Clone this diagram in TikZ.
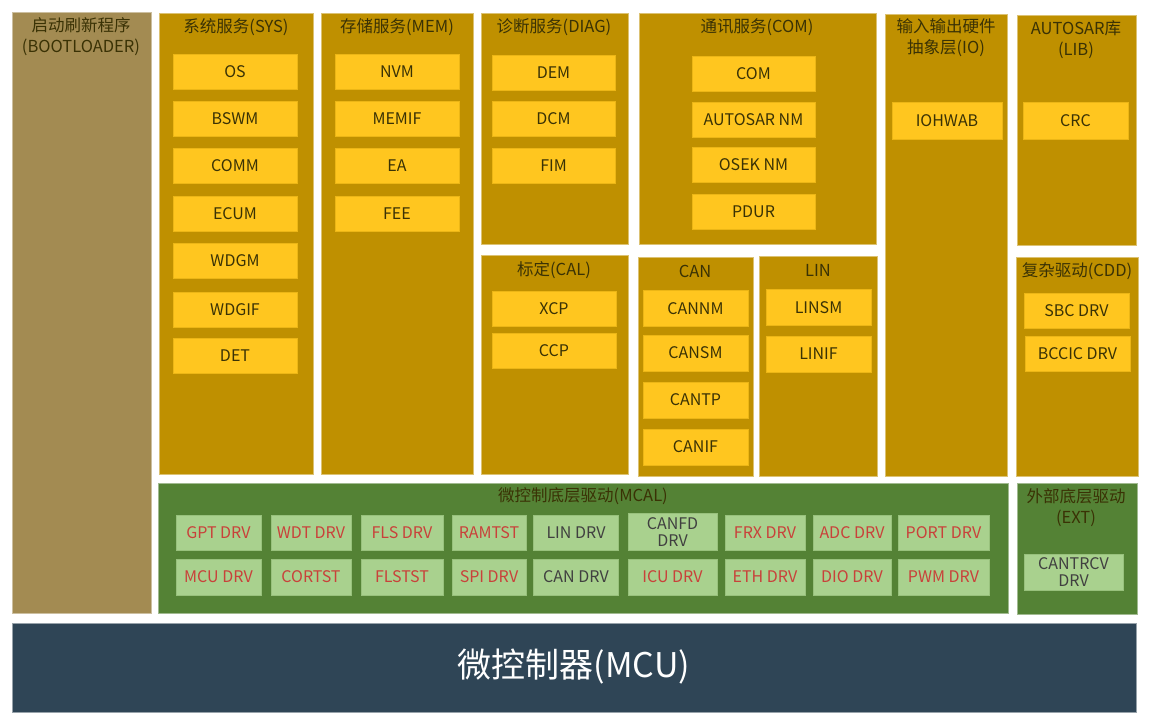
\documentclass[tikz,border=0pt]{standalone}
\usepackage{fontspec}
\setmainfont{Noto Sans CJK SC}
\usepackage{tikz}

\definecolor{bootcol}{HTML}{A38B52}
\definecolor{sectcol}{HTML}{BF9000}
\definecolor{modcol}{HTML}{FFC61F}
\definecolor{txtcol}{HTML}{3A3205}
\definecolor{mcalcol}{HTML}{548235}
\definecolor{drvcol}{HTML}{A9D18E}
\definecolor{redtxt}{HTML}{C9413A}
\definecolor{graytxt}{HTML}{404040}
\definecolor{mcucol}{HTML}{2F4556}

\tikzset{
  sect/.style={fill=sectcol, draw=sectcol!55!white, line width=0.8pt},
  bootsect/.style={fill=bootcol, draw=bootcol!55!white, line width=0.8pt},
  greensect/.style={fill=mcalcol, draw=mcalcol!55!white, line width=0.8pt},
  ttl/.style={text=txtcol, font=\fontsize{16.5}{21}\selectfont, align=center, inner sep=0pt},
  modbox/.style={fill=modcol, draw=modcol!70!sectcol, line width=0.6pt,
    text=txtcol, font=\fontsize{16}{18}\selectfont, inner sep=0pt,
    minimum width=#1, minimum height=35pt},
  modbox/.default=124pt,
  drvbox/.style={fill=drvcol, draw=drvcol!80!mcalcol, line width=0.6pt,
    text=redtxt, font=\fontsize{16}{17}\selectfont, inner sep=0pt, align=center,
    minimum height=35pt},
  graydrv/.style={drvbox, text=graytxt}
}

\begin{document}
\begin{tikzpicture}[x=1pt,y=-1pt]
  \useasboundingbox (0,0) rectangle (1151,723);

  % --- bootloader column ---
  \path[bootsect] (12,12) rectangle (151,613);
  \node[ttl] (bootT) at (81,37) {启动刷新程序\\(BOOTLOADER)};

  % --- service sections (top) ---
  \path[sect] (159,13) rectangle (313,474);
  \path[sect] (321,13) rectangle (473,474);
  \path[sect] (481,13) rectangle (628,244);
  \path[sect] (639,13) rectangle (876,244);
  \path[sect] (885,14) rectangle (1007,476);
  \path[sect] (1017,15) rectangle (1136,245);
  \path[sect] (481,255) rectangle (628,474);
  \path[sect] (638,257) rectangle (753,476);
  \path[sect] (759,256) rectangle (877,476);
  \path[sect] (1016,257) rectangle (1138,476);

  \node[ttl] (sysT)  at (236,27)  {系统服务(SYS)};
  \node[ttl] (memT)  at (397,27)  {存储服务(MEM)};
  \node[ttl] (diagT) at (554,27)  {诊断服务(DIAG)};
  \node[ttl] (comT)  at (757,27)  {通讯服务(COM)};
  \node[ttl] (ioT)   at (946,38)  {输入输出硬件\\抽象层(IO)};
  \node[ttl] (libT)  at (1076,40) {AUTOSAR库\\(LIB)};
  \node[ttl] (calT)  at (554,270) {标定(CAL)};
  \node[ttl] (canT)  at (695,271) {CAN};
  \node[ttl] (linT)  at (818,270) {LIN};
  \node[ttl] (cddT)  at (1077,271) {复杂驱动(CDD)};

  % --- SYS modules ---
  \foreach \y/\lab [count=\i] in {72/OS,118.5/BSWM,165.5/COMM,214/ECUM,261/WDGM,309.5/WDGIF,355.5/DET} {
    \node[modbox] (sys\i) at (235,\y) {\lab};
  }

  % --- MEM modules ---
  \foreach \y/\lab [count=\i] in {72/NVM,118.5/MEMIF,165.5/EA,214/FEE} {
    \node[modbox] (mem\i) at (397,\y) {\lab};
  }

  % --- DIAG modules ---
  \foreach \y/\lab [count=\i] in {72.5/DEM,119/DCM,166/FIM} {
    \node[modbox=123pt] (diag\i) at (553.5,\y) {\lab};
  }

  % --- COM modules ---
  \foreach \y/\lab [count=\i] in {74/COM,119.5/AUTOSAR NM,164.5/OSEK NM,211.5/PDUR} {
    \node[modbox=123pt] (com\i) at (753.5,\y) {\lab};
  }

  \node[modbox=110pt, minimum height=37pt] (iohwab) at (947,120.5) {IOHWAB};
  \node[modbox=105pt, minimum height=37pt] (crc) at (1075.5,120.5) {CRC};

  % --- CAL / CAN / LIN / CDD modules ---
  \node[modbox] (xcp) at (554,309) {XCP};
  \node[modbox] (ccp) at (554,350.5) {CCP};
  \foreach \y/\lab [count=\i] in {308.5/CANNM,353/CANSM,400/CANTP,447/CANIF} {
    \node[modbox=105pt, minimum height=36pt] (can\i) at (695.5,\y) {\lab};
  }
  \foreach \y/\lab [count=\i] in {307.5/LINSM,354/LINIF} {
    \node[modbox=105pt, minimum height=36pt] (lin\i) at (818.5,\y) {\lab};
  }
  \node[modbox=105pt] (sbc) at (1076.5,310.5) {SBC DRV};
  \node[modbox=105pt] (bccic) at (1077.5,353.5) {BCCIC DRV};

  % --- MCAL ---
  \path[greensect] (158,483) rectangle (1008,613);
  \node[ttl] (mcalT) at (583,496) {微控制底层驱动(MCAL)};

  \foreach \x/\w/\lab [count=\i] in {218.5/85/GPT DRV,311/80/WDT DRV,402/82/FLS DRV,489/74/RAMTST,
      765/80/FRX DRV,852/78/ADC DRV,943.5/91/PORT DRV} {
    \node[drvbox, minimum width=\w pt] (drvA\i) at (\x,532.5) {\lab};
  }
  \foreach \x/\w/\lab [count=\i] in {218.5/85/MCU DRV,311/80/CORTST,402/82/FLSTST,489/74/SPI DRV,
      672.5/89/ICU DRV,765/80/ETH DRV,852/78/DIO DRV,943.5/91/PWM DRV} {
    \node[drvbox, minimum width=\w pt, minimum height=36pt] (drvB\i) at (\x,577) {\lab};
  }
  \node[graydrv, minimum width=85pt] (lindrv) at (576,532.5) {LIN DRV};
  \node[graydrv, minimum width=85pt, minimum height=36pt] (candrv) at (576,577) {CAN DRV};
  \node[graydrv, minimum width=89pt, minimum height=37pt] (canfd) at (672.5,532) {CANFD\\DRV};

  % --- EXT ---
  \path[greensect] (1017,483) rectangle (1137,614);
  \node[ttl] (extT) at (1076,508) {外部底层驱动\\(EXT)};
  \node[graydrv, minimum width=99pt, minimum height=36pt] (cantrcv) at (1073.5,572.5) {CANTRCV\\DRV};

  % --- MCU bar ---
  \path[fill=mcucol, draw=mcucol!50!white, line width=0.8pt] (12,623) rectangle (1136,712);
  \node[text=white, font=\fontsize{34}{40}\selectfont] (mcuT) at (574,667) {微控制器(MCU)};
\end{tikzpicture}
\end{document}
